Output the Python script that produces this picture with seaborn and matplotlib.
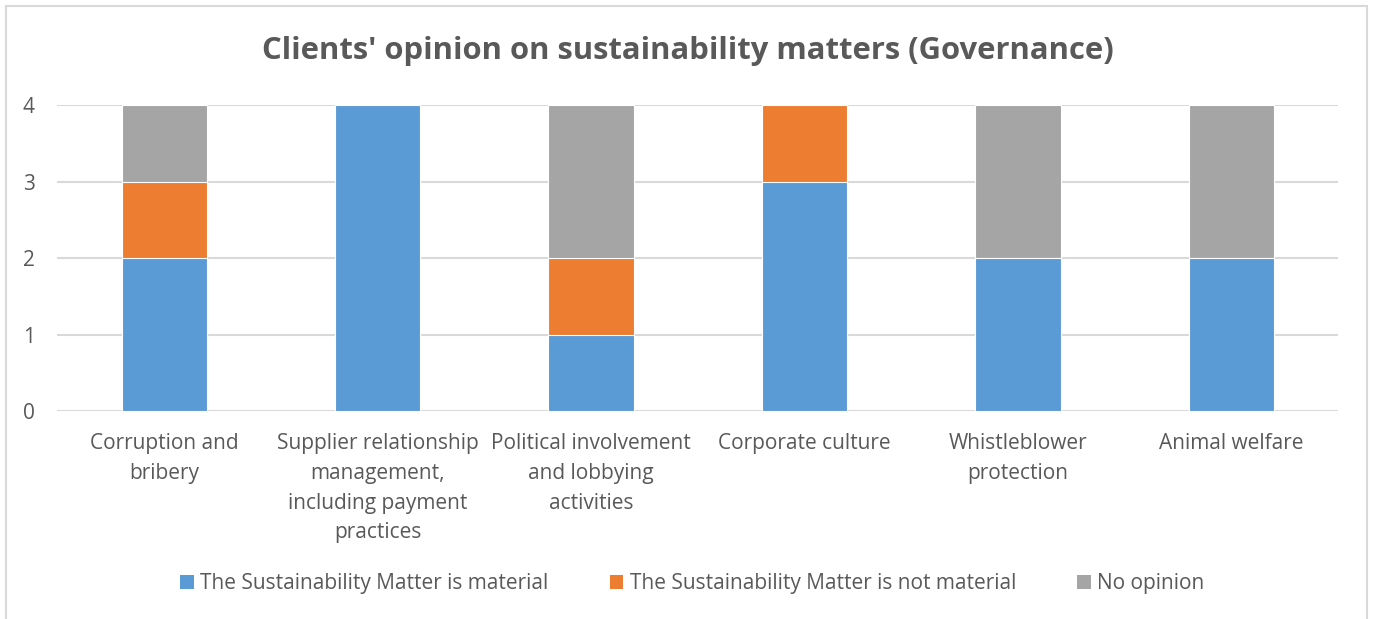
import matplotlib
matplotlib.use("Agg")
import matplotlib.pyplot as plt
import seaborn as sns
import numpy as np
import pandas as pd
from matplotlib.patches import Rectangle, Patch

categories = [
    "Corruption and\nbribery",
    "Supplier relationship\nmanagement,\nincluding payment\npractices",
    "Political involvement\nand lobbying\nactivities",
    "Corporate culture",
    "Whistleblower\nprotection",
    "Animal welfare",
]
material = [2, 4, 1, 3, 2, 2]
not_material = [1, 0, 1, 1, 0, 0]
no_opinion = [1, 0, 2, 0, 2, 2]

series_names = [
    "The Sustainability Matter is material",
    "The Sustainability Matter is not material",
    "No opinion",
]
colors = ["#5b9bd5", "#ed7d31", "#a5a5a5"]
yticks = [0, 1, 2, 3, 4]

sns.set_theme(style="white")
plt.rcParams["font.family"] = ["Open Sans", "DejaVu Sans"]
text_color = "#595959"

df = pd.DataFrame({
    "category": categories,
    "material": material,
    "not_material": not_material,
    "no_opinion": no_opinion,
})
df["top_material"] = df["material"]
df["top_not"] = df["material"] + df["not_material"]
df["top_all"] = df["top_not"] + df["no_opinion"]

fig = plt.figure(figsize=(13.75, 6.19), dpi=100)
ax = fig.add_axes([0.0418, 0.336, 0.9313, 0.494])

# stacked bars drawn as overlapping cumulative totals, tallest first
for col, color in zip(["top_all", "top_not", "top_material"], colors[::-1]):
    sns.barplot(data=df, x="category", y=col, color=color, width=0.4,
                saturation=1, edgecolor="white", linewidth=0.8, ax=ax, zorder=3)

ax.set_ylim(0, 4)
ax.set_yticks(yticks)
ax.set_xlim(-0.5, len(categories) - 0.5)
ax.yaxis.grid(True, color="#d9d9d9", linewidth=1.5, zorder=0)
ax.set_axisbelow(True)
for s in ax.spines.values():
    s.set_visible(False)
ax.set_xlabel("")
ax.set_ylabel("")
ax.tick_params(axis="both", length=0, colors=text_color, labelsize=15)
ax.tick_params(axis="x", pad=16)
ax.tick_params(axis="y", pad=25)
for lab in ax.get_xticklabels():
    lab.set_linespacing(1.54)
for lab in ax.get_yticklabels():
    lab.set_horizontalalignment("left")

fig.text(0.5, 0.917, "Clients' opinion on sustainability matters (Governance)",
         ha="center", va="center", fontsize=22.3, fontweight="bold", color=text_color)

handles = [Patch(facecolor=c, edgecolor="none") for c in colors]
fig.legend(handles, series_names, loc="center", bbox_to_anchor=(0.5035, 0.057),
           ncol=3, frameon=False, fontsize=15, labelcolor=text_color,
           handlelength=0.65, handleheight=0.65, handletextpad=0.3, columnspacing=2.95)

fig.patches.append(Rectangle((6 / 1375, -0.05), 1361 / 1375, 1.05 - 6 / 619,
                             transform=fig.transFigure, fill=False,
                             edgecolor="#d9d9d9", linewidth=1.5, zorder=10))

fig.savefig("out.png", dpi=100, facecolor="white")
